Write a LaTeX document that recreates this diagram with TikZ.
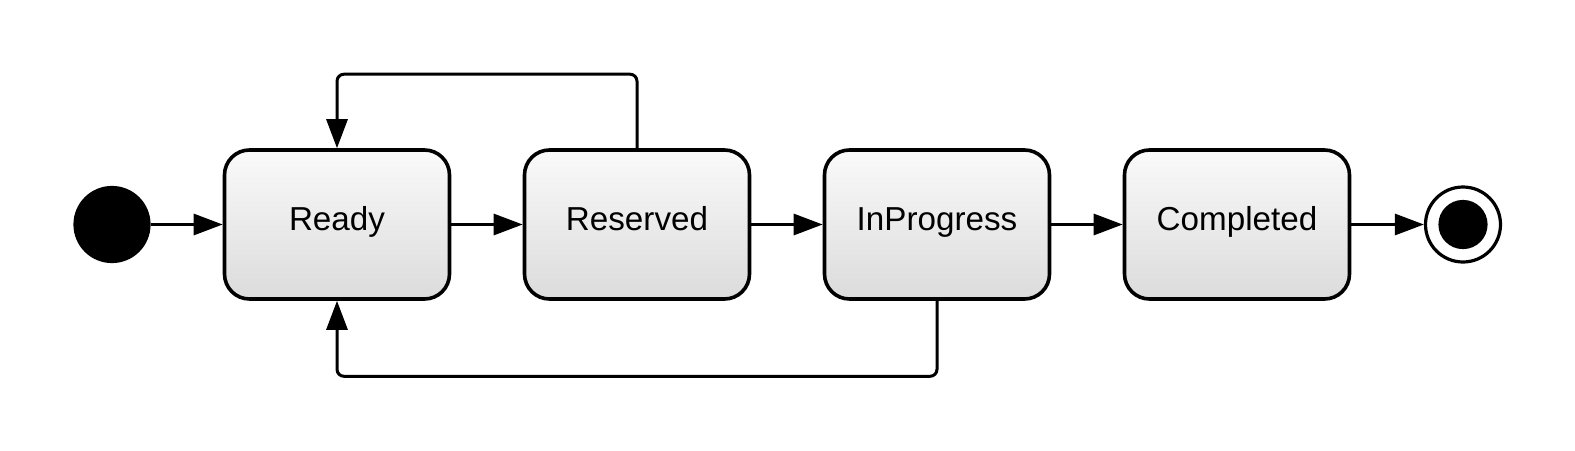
\documentclass[tikz,border=0pt]{standalone}
\usepackage{fontspec}
\setmainfont{Liberation Sans}
\usetikzlibrary{arrows.meta}
\tikzset{
  state/.style={draw, line width=1.8pt, rounded corners=12.5pt,
    minimum width=112.5pt, minimum height=74.5pt,
    top color=black!2, bottom color=black!14,
    font=\fontsize{16.6}{19}\selectfont, text height=11.8pt, text depth=6.3pt},
  initial/.style={circle, fill=black, minimum size=38.6pt, inner sep=0pt},
  final/.style={circle, draw, line width=1.6pt, minimum size=37.5pt, inner sep=0pt},
  trans/.style={line width=1.5pt, -{Triangle[length=14.5pt,width=10.5pt]}},
}
\begin{document}
\begin{tikzpicture}[x=0.5pt,y=-0.5pt]
  \useasboundingbox (0,0) rectangle (1575,450);
  \node[initial] (start) at (112,224.5) {};
  \node[state] (Ready) at (337,224.5) {Ready};
  \node[state] (Reserved) at (637,224.5) {Reserved};
  \node[state] (InProgress) at (937,224.5) {InProgress};
  \node[state] (Completed) at (1237,224.5) {Completed};
  \node[final] (end) at (1463,224.5) {};
  \fill (end) circle (12.3pt);
  \draw[trans] (start) -- (Ready);
  \draw[trans] (Ready) -- (Reserved);
  \draw[trans] (Reserved) -- (InProgress);
  \draw[trans] (InProgress) -- (Completed);
  \draw[trans] (Completed) -- (end);
  \begin{scope}[rounded corners=3.5pt]
    \draw[trans] (Reserved.north) -- ++(0,-74) -| (Ready.north);
    \draw[trans] (InProgress.south) -- ++(0,75.5) -| (Ready.south);
  \end{scope}
\end{tikzpicture}
\end{document}
